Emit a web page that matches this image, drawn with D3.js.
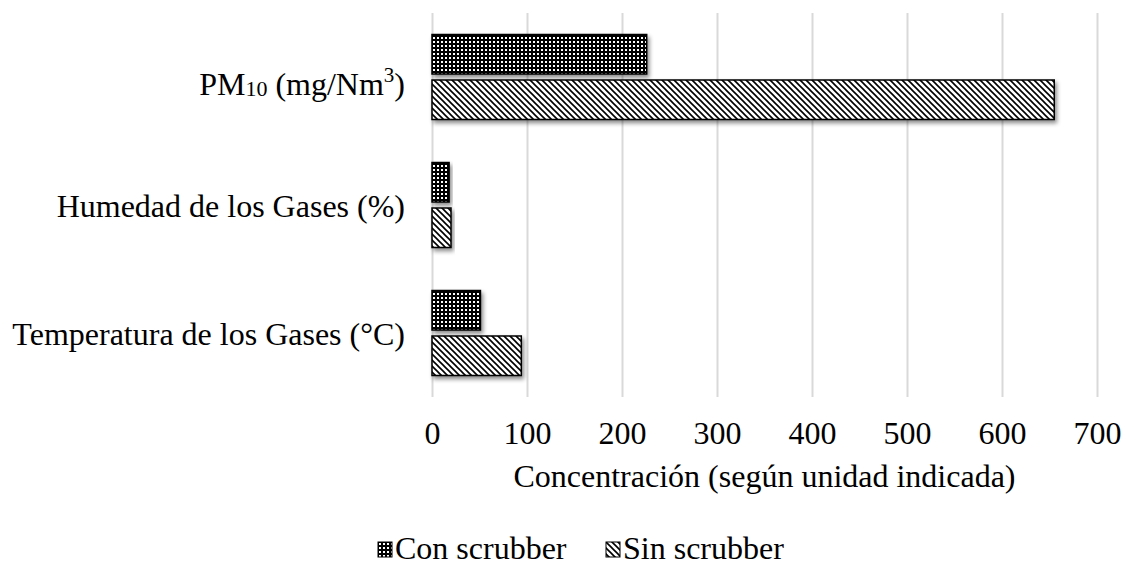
<!DOCTYPE html>
<html>
<head>
<meta charset="utf-8">
<script src="https://cdn.jsdelivr.net/npm/d3@7"></script>
<style>
  html, body { margin: 0; padding: 0; background: #fff; }
  svg { display: block; font-family: "Liberation Serif", "Times New Roman", serif; }
</style>
</head>
<body>
<svg id="chart" width="1124" height="566"></svg>
<script>
// ---- data ----
const categories = ["PM10 (mg/Nm3)", "Humedad de los Gases (%)", "Temperatura de los Gases (°C)"];
const seriesNames = ["Con scrubber", "Sin scrubber"];
const conScrubber = [226, 18, 51];
const sinScrubber = [655, 20, 94];
const xTickValues = [0, 100, 200, 300, 400, 500, 600, 700];
const axisTitle = "Concentración (según unidad indicada)";

// ---- layout ----
const plot = { left: 432, right: 1097, top: 13, bottom: 397 };
const fontSize = 32;

const svg = d3.select("#chart");
const defs = svg.append("defs");

// patterns
const pCon = defs.append("pattern").attr("id", "pCon")
  .attr("patternUnits", "userSpaceOnUse").attr("width", 4).attr("height", 4);
pCon.append("rect").attr("width", 4).attr("height", 4).attr("fill", "#000");
pCon.append("rect").attr("x", 1).attr("y", 1).attr("width", 2).attr("height", 2).attr("fill", "#fff");

const pSin = defs.append("pattern").attr("id", "pSin")
  .attr("patternUnits", "userSpaceOnUse").attr("width", 6).attr("height", 6);
pSin.append("rect").attr("width", 6).attr("height", 6).attr("fill", "#fff");
pSin.append("path").attr("d", "M-1,-1 L7,7 M-1,5 L1,7 M5,-1 L7,1")
  .attr("stroke", "#000").attr("stroke-width", 1.6);

const shadow = defs.append("filter").attr("id", "shadow")
  .attr("x", "-10%").attr("y", "-30%").attr("width", "130%").attr("height", "180%");
shadow.append("feDropShadow").attr("dx", 2).attr("dy", 3).attr("stdDeviation", 2.2)
  .attr("flood-color", "#000").attr("flood-opacity", 0.45);

const fills = { "Con scrubber": "url(#pCon)", "Sin scrubber": "url(#pSin)" };
const seriesValues = { "Con scrubber": conScrubber, "Sin scrubber": sinScrubber };

// scales
const x = d3.scaleLinear().domain([0, 700]).range([plot.left, plot.right]);
const y = d3.scaleBand().domain(categories).range([plot.top, plot.bottom]).padding(0);
const ySub = d3.scaleBand().domain(seriesNames).range([0, y.bandwidth()])
  .paddingInner(0.132).paddingOuter(0.473);

// gridlines
const grid = svg.append("g")
  .attr("transform", `translate(0,${plot.bottom})`)
  .call(d3.axisBottom(x).tickValues(xTickValues).tickSize(-(plot.bottom - plot.top)).tickFormat(""));
grid.select(".domain").remove();
grid.selectAll(".tick line").attr("stroke", "#d9d9d9").attr("stroke-width", 2);

// bars
const rows = categories.map((c, i) => ({ cat: c, i }));
seriesNames.forEach(s => {
  svg.append("g").selectAll("rect")
    .data(rows)
    .join("rect")
    .attr("x", x(0))
    .attr("y", d => y(d.cat) + ySub(s))
    .attr("width", d => x(seriesValues[s][d.i]) - x(0))
    .attr("height", ySub.bandwidth())
    .attr("fill", fills[s])
    .attr("stroke", "#000")
    .attr("stroke-width", 1.5)
    .attr("filter", "url(#shadow)");
});

// x axis labels
const xAxis = svg.append("g")
  .attr("transform", `translate(0,${plot.bottom})`)
  .call(d3.axisBottom(x).tickValues(xTickValues).tickSize(0).tickPadding(0).tickFormat(d3.format("d")));
xAxis.select(".domain").remove();
xAxis.selectAll("text")
  .attr("dy", null).attr("y", 47)
  .attr("font-family", "Liberation Serif, Times New Roman, serif")
  .attr("font-size", fontSize).attr("fill", "#000");

// y axis labels
const yLab = svg.append("g");
rows.forEach(d => {
  const cy = y(d.cat) + y.bandwidth() / 2;
  const t = yLab.append("text")
    .attr("x", 405)
    .attr("text-anchor", "end")
    .attr("font-size", fontSize)
    .attr("fill", "#000");
  if (d.i === 0) {
    t.attr("y", cy + 18);
    t.append("tspan").text("PM");
    t.append("tspan").attr("font-size", 22).attr("dy", 1).text("10");
    t.append("tspan").attr("dy", -1).text(" (mg/Nm");
    t.append("tspan").attr("font-size", 21).attr("dy", -13).text("3");
    t.append("tspan").attr("dy", 13).text(")");
  } else {
    t.attr("y", cy + 12).text(d.cat);
  }
});

// axis title
svg.append("text")
  .attr("x", (plot.left + plot.right) / 2)
  .attr("y", 487)
  .attr("text-anchor", "middle")
  .attr("font-size", fontSize)
  .attr("fill", "#000")
  .text(axisTitle);

// legend
const legend = svg.append("g");
const legendX = [378, 606];
seriesNames.forEach((s, i) => {
  const g = legend.append("g").attr("transform", `translate(${legendX[i]},542)`);
  g.append("rect").attr("width", 14).attr("height", 15)
    .attr("fill", fills[s]).attr("stroke", "#000").attr("stroke-width", 1);
  g.append("text").attr("x", 17).attr("y", 17)
    .attr("font-size", fontSize).attr("fill", "#000").text(s);
});
</script>
</body>
</html>
